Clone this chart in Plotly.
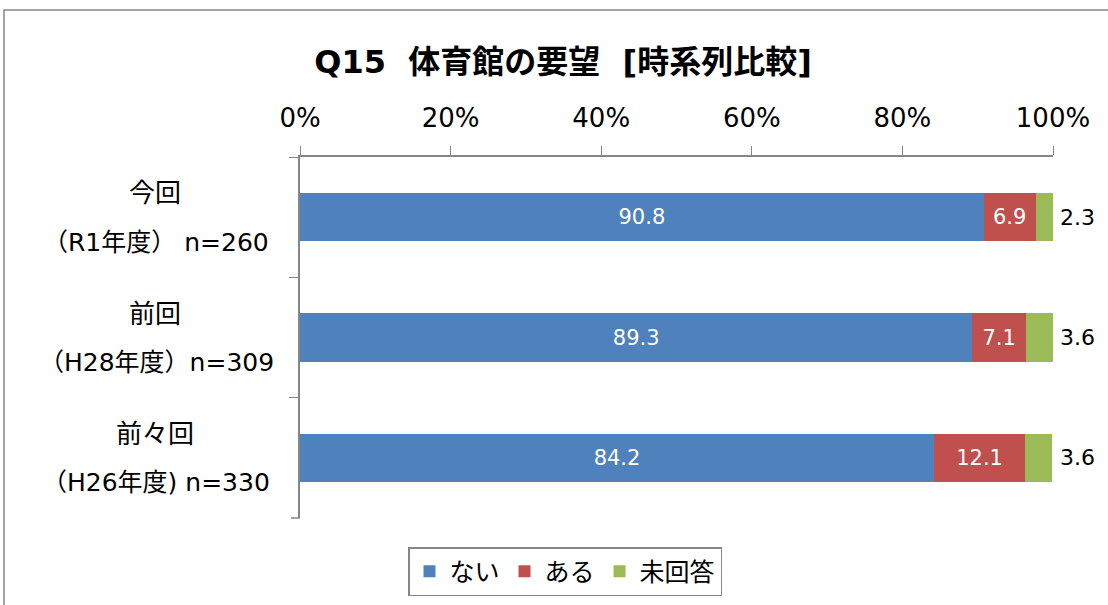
import plotly.graph_objects as go

categories = ["今回", "前回", "前々回"]
cat_line2 = ["（R1年度） n=260", "（H28年度）n=309", "（H26年度) n=330"]
series_names = ["ない", "ある", "未回答"]
nai = [90.8, 89.3, 84.2]
aru = [6.9, 7.1, 12.1]
mikaito = [2.3, 3.6, 3.6]
x_ticks = [0, 20, 40, 60, 80, 100]
x_ticklabels = ["0%", "20%", "40%", "60%", "80%", "100%"]

colors = ["#4F81BD", "#C0504D", "#9BBB59"]
FONT = "DejaVu Sans, Noto Sans CJK JP, sans-serif"

W, H = 1108, 605
L, R, T, B = 300, 55, 157, 87
pw, ph = W - L - R, H - T - B


def px_x(x):
    return (x - L) / pw


def px_y(y):
    return (H - B - y) / ph


fig = go.Figure()
for name, vals, col in zip(series_names, [nai, aru, mikaito], colors):
    show_text = name != "未回答"
    fig.add_trace(go.Bar(
        y=categories, x=vals, name=name, orientation="h",
        marker=dict(color=col, line=dict(width=0)),
        width=0.4,
        text=[f"{v:.1f}" for v in vals] if show_text else None,
        textposition="inside" if show_text else "none",
        insidetextanchor="middle",
        textfont=dict(color="white", size=21, family=FONT),
        textangle=0,
    ))

annotations = []
for cat, l2, v in zip(categories, cat_line2, mikaito):
    annotations.append(dict(x=px_x(155), xref="paper", y=cat, yref="y", text=cat,
                            showarrow=False, xanchor="center", yanchor="middle", yshift=24,
                            font=dict(size=26, color="black", family=FONT)))
    annotations.append(dict(x=px_x(156), xref="paper", y=cat, yref="y", text=l2,
                            showarrow=False, xanchor="center", yanchor="middle", yshift=-25,
                            font=dict(size=25, color="black", family=FONT)))
    annotations.append(dict(x=100, xref="x", y=cat, yref="y", text=f"{v:.1f}",
                            showarrow=False, xanchor="left", yanchor="middle", xshift=5,
                            font=dict(size=22, color="black", family=FONT)))

fig.update_layout(
    width=W, height=H,
    margin=dict(l=L, r=R, t=T, b=B, autoexpand=False),
    paper_bgcolor="white", plot_bgcolor="white",
    barmode="stack",
    title=dict(text="<b>Q15  体育館の要望  [時系列比較]</b>", x=563 / W, xref="container",
               xanchor="center", y=1 - 62 / H, yref="container", yanchor="middle",
               font=dict(size=32, color="black", family=FONT)),
    xaxis=dict(range=[0, 100], side="top", tickvals=x_ticks, ticktext=x_ticklabels,
               ticks="outside", ticklen=9, tickcolor="#868686", showline=True,
               linecolor="#868686", linewidth=1.5, showgrid=False, zeroline=False,
               tickfont=dict(size=26, color="black", family=FONT), ticklabelstandoff=9),
    yaxis=dict(categoryorder="array", categoryarray=categories, autorange="reversed",
               showticklabels=False, ticks="outside", ticklen=9, tickcolor="#868686",
               tickson="boundaries", showline=True, linecolor="#868686", linewidth=1.5,
               showgrid=False, zeroline=False),
    legend=dict(orientation="h", x=px_x(565), xanchor="center", y=px_y(547), yanchor="top",
                bordercolor="#868686", borderwidth=1.5, bgcolor="white",
                font=dict(size=25, color="black", family=FONT), traceorder="normal"),
    annotations=annotations,
    shapes=[
        dict(type="rect", xref="paper", yref="paper", x0=px_x(4), x1=px_x(1125),
             y0=px_y(620), y1=px_y(10), line=dict(color="#868686", width=1.5),
             fillcolor="rgba(0,0,0,0)", layer="below"),
        # bottom boundary tick of the category axis
        dict(type="line", xref="paper", yref="paper", x0=px_x(291), x1=0,
             y0=0, y1=0, line=dict(color="#868686", width=1.5)),
    ],
    showlegend=True,
)

fig.write_html("out.html", post_script="document.body.style.margin='0px';",
               config={"displayModeBar": False})
